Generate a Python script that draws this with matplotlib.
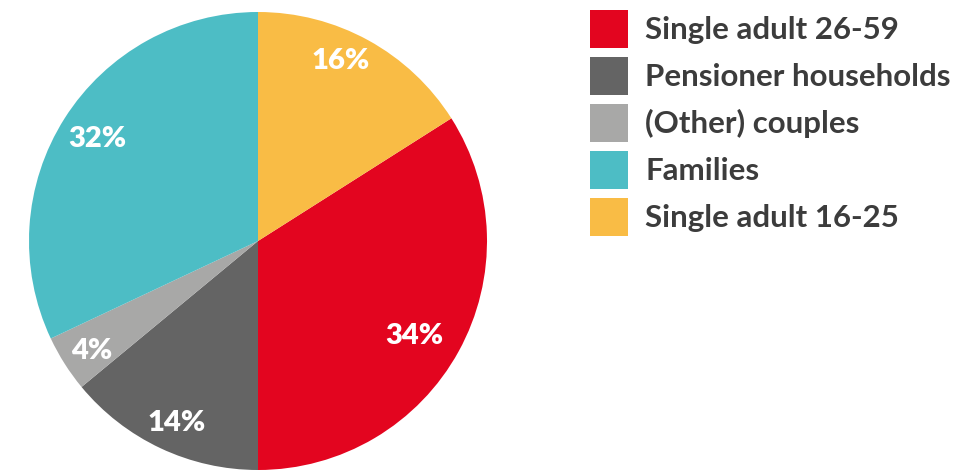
import matplotlib
matplotlib.use("Agg")
import matplotlib.pyplot as plt
import numpy as np

categories = ["Single adult 26-59", "Pensioner households", "(Other) couples",
              "Families", "Single adult 16-25"]
values = [34, 14, 4, 32, 16]
colors = ["#E3051F", "#646464", "#A8A8A7", "#4DBDC5", "#F9BC45"]

# label placement style (fraction of radius, angle nudge in degrees)
label_radius = [0.80, 0.87, 0.87, 0.83, 0.865]
label_nudge = [-2.5, 1.0, 1.0, 0.0, 4.0]

plt.rcParams['font.family'] = ['Lato', 'DejaVu Sans']

W, H = 957, 473
fig = plt.figure(figsize=(W / 100, H / 100), dpi=100)
cx, cy, r = 258, 241, 229
pad = 2
ax = fig.add_axes([(cx - r - pad) / W, (H - cy - r - pad) / H,
                   (2 * r + 2 * pad) / W, (2 * r + 2 * pad) / H])

start = 90 - values[-1] / sum(values) * 360
wedges, _ = ax.pie(values, colors=colors, startangle=start, counterclock=False,
                   radius=1.0, wedgeprops=dict(linewidth=0))
lim = 1 + pad / r
ax.set_xlim(-lim, lim)
ax.set_ylim(-lim, lim)
ax.set_aspect('equal')
ax.axis('off')

for w, v, rr, nd in zip(wedges, values, label_radius, label_nudge):
    theta = np.deg2rad((w.theta1 + w.theta2) / 2 + nd)
    ax.text(rr * np.cos(theta), rr * np.sin(theta), f"{v}%", color="white",
            fontsize=21, fontweight="heavy", ha="center", va="center")

fs = 22.5
leg = fig.legend(wedges, categories, loc="upper left",
                 bbox_to_anchor=(590 / W, 1 - 10 / H), frameon=False,
                 fontsize=fs, handlelength=1.22, handleheight=1.49,
                 handletextpad=0.54, labelspacing=0.29, borderpad=0,
                 borderaxespad=0)
for t in leg.get_texts():
    t.set_color("#3C3C3C")
    t.set_fontweight("bold")

fig.savefig("out.png", dpi=100)
